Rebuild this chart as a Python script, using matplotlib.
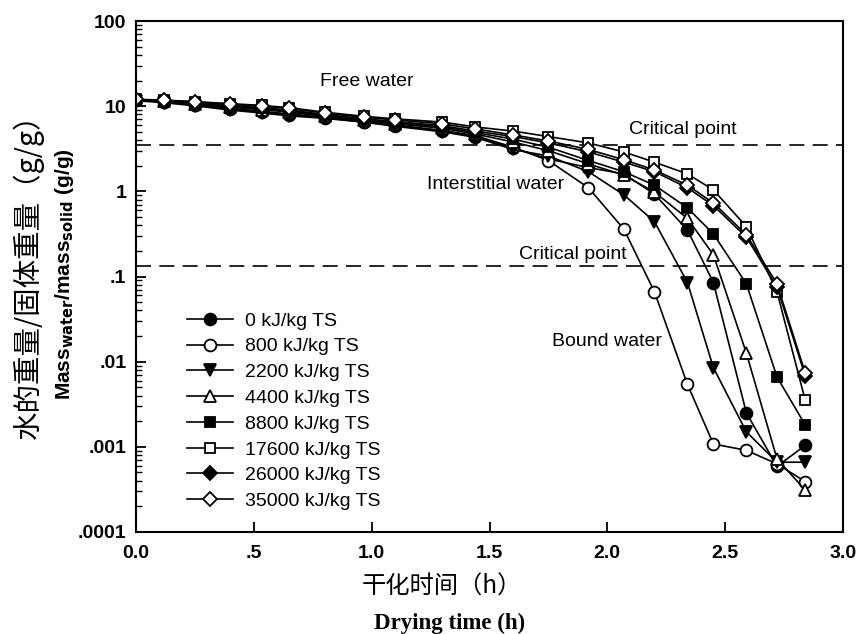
import matplotlib
matplotlib.use("Agg")
import matplotlib.pyplot as plt
from matplotlib.ticker import FixedLocator, FixedFormatter, LogLocator, NullFormatter

plt.rcParams["font.family"] = ["Liberation Sans", "DejaVu Sans"]

# Drying time [h]
time_h = [0, 0.117, 0.25, 0.4, 0.533, 0.65, 0.8, 0.967, 1.1, 1.3, 1.44, 1.6, 1.75,
          1.92, 2.07, 2.2, 2.34, 2.45, 2.59, 2.72, 2.84]

# Mass water / mass solid [g/g] for each energy input
ratio_0 = [11.7, 11.2, 10.3, 9.2, 8.5, 7.9, 7.3, 6.5, 5.9, 5.1, 4.4, 3.2, 2.4,
           1.9, 1.6, 0.93, 0.35, 0.085, 0.0025, 0.00059, 0.00104]
ratio_800 = [11.8, 11.3, 10.4, 9.4, 8.7, 8.1, 7.4, 6.6, 6.0, 5.2, 4.5, 3.3, 2.3,
             1.1, 0.36, 0.066, 0.0054, 0.00108, 0.00091, 0.00063, 0.00039]
ratio_2200 = [11.6, 11.0, 10.1, 9.0, 8.3, 7.7, 7.2, 6.5, 5.8, 5.0, 4.3, 3.1, 2.6,
              1.7, 0.91, 0.44, 0.085, 0.0085, 0.0015, 0.00066, 0.00066]
ratio_4400 = [11.8, 11.4, 10.6, 9.7, 9.1, 8.5, 7.6, 6.8, 6.2, 5.5, 4.7, 3.8, 3.0,
              2.1, 1.55, 0.98, 0.48, 0.18, 0.0126, 0.00072, 0.00031]
ratio_8800 = [11.9, 11.5, 10.8, 10.0, 9.4, 8.8, 7.8, 7.0, 6.4, 5.7, 4.9, 4.1, 3.3,
              2.3, 1.7, 1.18, 0.64, 0.316, 0.082, 0.0066, 0.0018]
ratio_17600 = [12.0, 11.8, 11.3, 10.7, 10.2, 9.6, 8.5, 7.6, 7.1, 6.5, 5.7, 5.1, 4.4,
               3.7, 2.9, 2.2, 1.6, 1.04, 0.385, 0.066, 0.0035]
ratio_26000 = [11.9, 11.5, 10.9, 10.1, 9.6, 9.0, 8.0, 7.1, 6.6, 5.9, 5.1, 4.4, 3.7,
               2.9, 2.2, 1.7, 1.1, 0.68, 0.29, 0.075, 0.0068]
ratio_35000 = [12.0, 11.7, 11.2, 10.5, 10.0, 9.4, 8.3, 7.4, 6.9, 6.2, 5.4, 4.6, 3.9,
               3.1, 2.35, 1.78, 1.18, 0.73, 0.31, 0.082, 0.0073]

labels = ["0 kJ/kg TS", "800 kJ/kg TS", "2200 kJ/kg TS", "4400 kJ/kg TS",
          "8800 kJ/kg TS", "17600 kJ/kg TS", "26000 kJ/kg TS", "35000 kJ/kg TS"]
series = [ratio_0, ratio_800, ratio_2200, ratio_4400,
          ratio_8800, ratio_17600, ratio_26000, ratio_35000]

# critical points separating free / interstitial / bound water
critical_upper = 3.5
critical_lower = 0.133

x_ticks = [0, 0.5, 1.0, 1.5, 2.0, 2.5, 3.0]
x_ticklabels = ["0.0", ".5", "1.0", "1.5", "2.0", "2.5", "3.0"]
y_ticks = [1e-4, 1e-3, 1e-2, 1e-1, 1, 10, 100]
y_ticklabels = [".0001", ".001", ".01", ".1", "1", "10", "100"]

# marker, filled?
styles = [("o", True), ("o", False), ("v", True), ("^", False),
          ("s", True), ("s", False), ("D", True), ("D", False)]
sizes = {"o": 8.5, "v": 8.5, "^": 8.5, "s": 7.5, "D": 7.5}

fig = plt.figure(figsize=(8.59, 6.34), dpi=100)
ax = fig.add_axes([136 / 859, 1 - 532 / 634, (843 - 136) / 859, (532 - 21) / 634])

for y, lab, (m, filled) in zip(series, labels, styles):
    ax.plot(time_h, y, color="black", lw=1.2, marker=m, ms=sizes[m],
            mfc="black" if filled else "white", mec="black", mew=1.3, label=lab)

for c in (critical_upper, critical_lower):
    ax.axhline(c, color="black", lw=1.2, dashes=(9, 5), zorder=1)

ax.set_yscale("log")
ax.set_xlim(0, 3.0)
ax.set_ylim(1e-4, 100)

ax.xaxis.set_major_locator(FixedLocator(x_ticks))
ax.xaxis.set_major_formatter(FixedFormatter(x_ticklabels))
ax.yaxis.set_major_locator(FixedLocator(y_ticks))
ax.yaxis.set_major_formatter(FixedFormatter(y_ticklabels))
ax.yaxis.set_minor_locator(LogLocator(base=10, subs=range(2, 10)))
ax.yaxis.set_minor_formatter(NullFormatter())

ax.tick_params(axis="both", which="major", direction="in", length=7, width=1.3,
               labelsize=14)
ax.tick_params(axis="x", which="major", pad=9)
ax.tick_params(axis="y", which="major", pad=7)
ax.tick_params(axis="y", which="minor", direction="in", length=4, width=1.0)
for lbl in ax.get_xticklabels() + ax.get_yticklabels():
    lbl.set_fontweight("bold")
for s in ax.spines.values():
    s.set_linewidth(1.5)

# region annotations
ax.text(0.98, 19.5, "Free water", fontsize=14, ha="center", va="center")
ax.text(1.233, 1.19, "Interstitial water", fontsize=14, ha="left", va="center")
ax.text(2.093, 5.25, "Critical point", fontsize=14, ha="left", va="center")
ax.text(2.08, 0.18, "Critical point", fontsize=14, ha="right", va="center")
ax.text(1.767, 0.0171, "Bound water", fontsize=14, ha="left", va="center")

ax.legend(loc="upper left", bbox_to_anchor=(187 / 859, 1 - 312 / 634),
          bbox_transform=fig.transFigure, frameon=False, fontsize=14,
          handlelength=2.37, handletextpad=0.62, labelspacing=0.42,
          borderpad=0, borderaxespad=0)

# axis titles (Chinese + English)
fig.text(28 / 859, 1 - 269 / 634, "水的重量/固体重量（g/g）", rotation=90,
         ha="center", va="center", fontsize=20.5, family=["Noto Sans CJK SC", "DejaVu Sans"])
fig.text(65 / 859, 1 - 274 / 634, r"Mass$_{\mathbf{water}}$/mass$_{\mathbf{solid}}$ (g/g)",
         rotation=90, ha="center", va="center", fontsize=15, fontweight="bold")
fig.text(442 / 859, 1 - 587 / 634, "干化时间（h）", ha="center", va="center",
         fontsize=17.5, family=["Noto Sans CJK SC", "DejaVu Sans"])
fig.text(450 / 859, 1 - 623 / 634, "Drying time (h)", ha="center", va="center",
         fontsize=16.5, fontweight="bold", family=["Liberation Serif", "DejaVu Serif"])

fig.savefig("out.png", dpi=100)
